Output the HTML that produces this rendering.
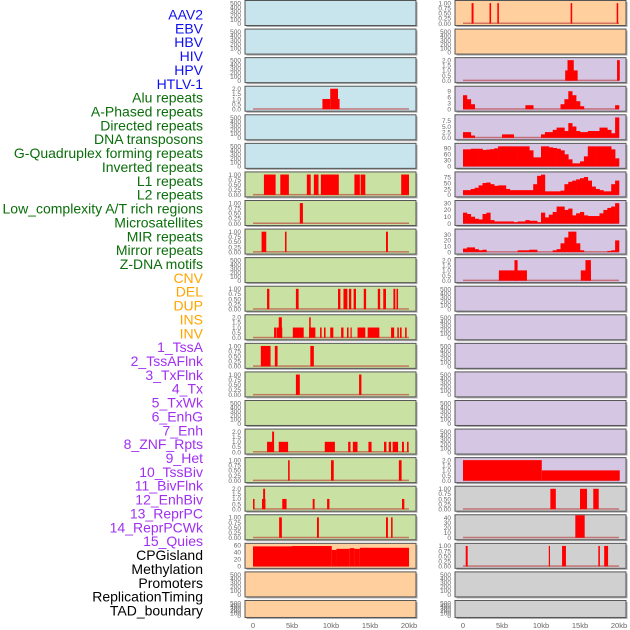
<!DOCTYPE html>
<html><head><meta charset="utf-8"><style>
html,body{margin:0;padding:0;background:#fff;}
svg{display:block;font-family:"Liberation Sans",sans-serif;}
</style></head><body>
<svg id="chart" width="630" height="630" viewBox="0 0 630 630"></svg>
<script>
// ---- data ----
const labels = ["AAV2","EBV","HBV","HIV","HPV","HTLV-1","Alu repeats","A-Phased repeats","Directed repeats","DNA transposons","G-Quadruplex forming repeats","Inverted repeats","L1 repeats","L2 repeats","Low_complexity A/T rich regions","Microsatellites","MIR repeats","Mirror repeats","Z-DNA motifs","CNV","DEL","DUP","INS","INV","1_TssA","2_TssAFlnk","3_TxFlnk","4_Tx","5_TxWk","6_EnhG","7_Enh","8_ZNF_Rpts","9_Het","10_TssBiv","11_BivFlnk","12_EnhBiv","13_ReprPC","14_ReprPCWk","15_Quies","CPGisland","Methylation","Promoters","ReplicationTiming","TAD_boundary"];
const labelGroups = ["v","v","v","v","v","v","r","r","r","r","r","r","r","r","r","r","r","r","r","c","c","c","c","c","h","h","h","h","h","h","h","h","h","h","h","h","h","h","h","o","o","o","o","o"];
const xTickLabels = ["0","5kb","10kb","15kb","20kb"];
const xTickValues = [0,5,10,15,20];
const tickBinary = ["0.00","0.25","0.50","0.75","1.00"];
const tickTwo = ["0.0","0.5","1.0","1.5","2.0"];
const tickEmpty = ["0","100","200","300","400","500"];

// segments: [startKb, endKb, value]
const segHIV = [[8.9,9.9,1],[9.9,10.9,2],[10.9,11.1,1]];
const segAlu = [[1.4,2.9,1],[3.5,4.6,1],[6.9,7.4,1],[7.8,8.4,1],[8.7,11,1],[13,13.7,1],[13.8,14.4,1],[19,20,1]];
const segAPhased = [[6,6.4,1]];
const segDirected = [[1.1,1.7,1],[4.1,4.3,1],[17.05,17.3,1]];
const segGQuad = [[1.8,2.1,1],[5.5,5.85,1],[10.9,11.2,1],[11.6,12.1,1],[12.3,12.6,1],[12.9,13.2,1],[14.2,14.5,1],[16,16.3,1],[16.7,17.05,1],[18,18.25,1],[18.4,18.6,1]];
const segInverted = [[2.7,2.95,1],[3.0,3.75,1],[3.3,3.7,2],[5.1,6.5,1],[7.2,8.0,1],[7.2,7.4,2],[8.6,8.8,1],[9.1,9.3,1],[9.9,10.3,1],[11.3,11.6,1],[12.05,12.25,1],[12.5,12.65,1],[13.4,14.4,1],[14.7,16.2,1],[17.7,18.1,1],[18.5,18.7,1],[18.85,19.05,1],[19.5,19.7,1]];
const segL1 = [[1,2.25,1],[2.8,3.15,1],[7.35,7.8,1]];
const segL2 = [[5.5,6.0,1],[13.6,13.9,1]];
const segMicro = [[1.8,2.7,1],[2.45,2.7,2],[3.3,4.5,1],[9.2,10.5,1],[12.2,12.5,1],[12.8,13.4,1],[14.8,15.2,1],[16.8,17.1,1],[17.4,17.7,1],[17.9,18.6,1],[19.1,19.35,1],[19.75,19.95,1]];
const segMIR = [[4.5,4.7,1],[10,10.35,1],[18.7,19.05,1]];
const segMirror = [[0,0.2,1],[1.15,1.6,1],[1.3,1.55,2],[3.75,4.3,1],[7.65,7.9,1],[9.5,9.8,1],[19.1,19.4,1]];
const segZDNA = [[3.35,3.7,1],[8.2,8.45,1],[17.05,17.3,1],[17.7,17.9,1]];
const segCNV = [[0,5,57],[5,10.1,58],[10.1,10.7,47],[10.7,12.4,50],[12.4,13,52],[13,13.7,50],[13.7,20,53]];
const segINS = [[1.1,1.35,1],[3.4,3.6,1],[4.4,4.6,1],[13.8,14.0,1],[19.7,19.9,1]];
const segTssA = [[13.1,14.7,1],[13.4,14.2,2],[19.75,20.1,2]];
const segHet = [[4.6,8.2,1],[6.6,7.0,2],[15.1,16.4,1],[15.7,16.4,2]];
const segQuies = [[0,10.1,2],[10.1,20.1,1]];
const segCPG = [[11.2,11.9,1],[15,15.9,1],[16.7,17.4,1]];
const segMeth = [[14.4,15.6,45]];
const segProm = [[0.35,0.6,1],[11,11.15,1],[12.7,13.2,1],[17.35,17.55,1],[18.1,18.6,1]];

// binned values, 0.5kb bins over 0-20kb
const binTssAFlnk = [7,5,2.5,0,0,0,0,0,0,0,0,0,0,0,0,0,2,2,0,0,0,0,0,0,0,2.5,5,9,7,4,1.5,0,0,0,0,0,0,0,0,2];
const binTxFlnk = [2.5,2.5,1,0,0,0,0,0,0,0,1.5,1.5,1.5,0,0,0,0,0,0,0,1.5,2.5,2.5,3.5,4.5,4.5,3,6.5,5,3,2.5,2.5,3,3,3,4.5,4.5,3.5,2,9];
const binTx = [85,85,88,88,88,82,84,86,90,100,100,100,100,100,100,100,100,80,45,45,100,100,95,92,88,80,60,35,15,15,25,50,100,100,100,100,100,100,85,40];
const binTxWk = [20,20,25,30,40,50,52,45,38,40,40,25,20,20,20,20,20,20,45,80,85,15,15,15,15,18,45,55,60,65,70,75,60,35,25,20,15,15,45,60];
const binEnhG = [16,14,10,7,6,14,16,5,3,3,3,3,3,2,3,3,5,4,4,2,16,9,13,17,25,25,20,22,12,15,17,12,11,11,11,15,20,23,25,30];
const binEnh = [6,8,8,5,3,4,0,0,0,0,0,0,0,0,3,3,3,4,4,0,0,0,0,3,5,15,25,35,35,15,3,0,0,0,0,0,0,2,3,20];

const C_BLUE="#c8e4ec", C_GREEN="#c9e2a3", C_ORANGE="#ffd09e", C_PURPLE="#d5c6e3", C_GRAY="#d0d0d0";
const B=[0,0.25,0.5,0.75,1], T2=[0,0.5,1,1.5,2], E=[0,100,200,300,400,500];
const leftPanels = [
 ["aav2",C_BLUE,tickEmpty,E,520,null],["ebv",C_BLUE,tickEmpty,E,520,null],["hbv",C_BLUE,tickEmpty,E,520,null],
 ["hiv",C_BLUE,tickTwo,T2,2.05,segHIV],["hpv",C_BLUE,tickEmpty,E,520,null],["htlv-1",C_BLUE,tickEmpty,E,520,null],
 ["alu",C_GREEN,tickBinary,B,1.03,segAlu],["a-phased",C_GREEN,tickBinary,B,1.03,segAPhased],["directed",C_GREEN,tickBinary,B,1.03,segDirected],
 ["dna-transposons",C_GREEN,tickEmpty,E,520,null],["g-quadruplex",C_GREEN,tickBinary,B,1.03,segGQuad],["inverted",C_GREEN,tickTwo,T2,2.05,segInverted],
 ["l1",C_GREEN,tickBinary,B,1.03,segL1],["l2",C_GREEN,tickBinary,B,1.03,segL2],["low-complexity",C_GREEN,tickEmpty,E,520,null],
 ["microsatellites",C_GREEN,tickTwo,T2,2.05,segMicro],["mir",C_GREEN,tickBinary,B,1.03,segMIR],["mirror",C_GREEN,tickTwo,T2,2.05,segMirror],
 ["z-dna",C_GREEN,tickBinary,B,1.03,segZDNA],["cnv",C_ORANGE,["0","20","40","60"],[0,20,40,60],60,segCNV],
 ["del",C_ORANGE,tickEmpty,E,520,null],["dup",C_ORANGE,tickEmpty,E,520,null]
];
const rightPanels = [
 ["ins",C_ORANGE,tickBinary,B,1.03,segINS],["inv",C_ORANGE,tickEmpty,E,520,null],
 ["1-tssa",C_PURPLE,tickTwo,T2,2.05,segTssA],["2-tssaflnk",C_PURPLE,["0","3","6","9"],[0,3,6,9],10.5,binTssAFlnk],
 ["3-txflnk",C_PURPLE,["0.0","2.5","5.0","7.5"],[0,2.5,5,7.5],9.3,binTxFlnk],["4-tx",C_PURPLE,["0","30","60","90"],[0,30,60,90],105,binTx],
 ["5-txwk",C_PURPLE,["0","25","50","75"],[0,25,50,75],88,binTxWk],["6-enhg",C_PURPLE,["0","10","20","30"],[0,10,20,30],31,binEnhG],
 ["7-enh",C_PURPLE,["0","10","20","30"],[0,10,20,30],36,binEnh],["8-znf-rpts",C_PURPLE,tickTwo,T2,2.05,segHet],
 ["9-het",C_PURPLE,tickEmpty,E,520,null],["10-tssbiv",C_PURPLE,tickEmpty,E,520,null],["11-bivflnk",C_PURPLE,tickEmpty,E,520,null],
 ["12-enhbiv",C_PURPLE,tickEmpty,E,520,null],["13-reprpc",C_PURPLE,tickEmpty,E,520,null],["14-reprpcwk",C_PURPLE,tickEmpty,E,520,null],
 ["15-quies",C_PURPLE,tickTwo,T2,2.05,segQuies],["cpgisland",C_GRAY,tickBinary,B,1.03,segCPG],
 ["methylation",C_GRAY,["0","10","20","30","40"],[0,10,20,30,40],42,segMeth],["promoters",C_GRAY,tickBinary,B,1.03,segProm],
 ["replication-timing",C_GRAY,tickEmpty,E,520,null],["tad-boundary",C_GRAY,tickEmpty,E,520,null]
];

const NS="http://www.w3.org/2000/svg";
const svg=document.getElementById('chart');
function mk(tag,attrs,parent){const e=document.createElementNS(NS,tag);for(const k in attrs)e.setAttribute(k,attrs[k]);(parent||svg).appendChild(e);return e;}

const groupColor={v:"#1010ee",r:"#0a6e0a",c:"#ffa500",h:"#a030f0",o:"#000"};
const lg=mk('g',{});


labels.forEach((t,i)=>{
  const el=mk('text',{x:203,y:19.5+i*13.86,'text-anchor':'end','font-size':14,fill:groupColor[labelGroups[i]]},lg);
  el.textContent=t;
  
  
});

function drawColumn(panels,x0,x1,zeroX,kbPx,side){
  panels.forEach((p,i)=>{
    const top=0.5+i*28.57;
    const h=(i===21)?17:25;
    const g=mk('g',{});
    
    
    mk('rect',{x:x0+1.5,y:top+1.5,width:x1-x0,height:h,fill:'#aaa'},g);
    mk('rect',{x:x0,y:top,width:x1-x0,height:h,fill:p[1],stroke:'#555','stroke-width':1},g);
    const yb=top+h-2, yt=top+2;
    const ys=v=>yb-(v/p[4])*(yb-yt);
    const xs=kb=>zeroX+kb*kbPx;
    p[2].forEach((lab,k)=>{
      const yy=Math.min(Math.max(ys(p[3][k]),top+1),top+h);
      const t=mk('text',{x:x0-4,y:yy+2.3,'text-anchor':'end','font-size':6.5,fill:'#666'},g);
      t.textContent=lab;
      
      
    });
    const d=p[5];
    if(d){
      mk('rect',{x:xs(0),y:yb-1,width:20*kbPx,height:1.5,fill:'#b33','opacity':0.6},g);
      if(Array.isArray(d[0])){
        d.forEach(s=>{
          const y=Math.max(ys(s[2]),top+0.5);
          const r=mk('rect',{x:xs(s[0]),y:y,width:Math.max((s[1]-s[0])*kbPx,1.2),height:yb-y,fill:'#ff0000'},g);
          
          
        });
      } else {
        d.forEach((v,k)=>{
          if(v<=0)return;
          const y=Math.max(ys(v),top+0.5);
          const r=mk('rect',{x:xs(k*0.5),y:y,width:0.5*kbPx+0.3,height:yb-y,fill:'#ff0000'},g);
          
          
        });
      }
    }
  });
  const ax=mk('g',{});
  
  
  xTickValues.forEach((v,k)=>{
    const t=mk('text',{x:zeroX+v*kbPx,y:628,'text-anchor':'middle','font-size':7.5,fill:'#666'},ax);
    t.textContent=xTickLabels[k];
    
    
  });
}
drawColumn(leftPanels,245,416,253,7.8,'left');
drawColumn(rightPanels,455,626,463,7.8,'right');
</script>
</body></html>
